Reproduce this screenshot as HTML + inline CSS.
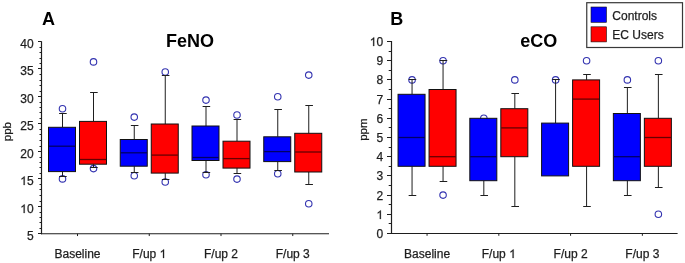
<!DOCTYPE html>
<html><head><meta charset="utf-8"><style>
html,body{margin:0;padding:0;background:#fff;overflow:hidden;}
svg{display:block;will-change:transform;}
.t{font-family:"Liberation Sans",sans-serif;font-size:12px;fill:#1e1e1e;stroke:#1e1e1e;stroke-width:0.25px;}
.h{fill-opacity:0;stroke-opacity:0;}
.o1{fill:#1e1e1e;stroke:#1e1e1e;stroke-width:42;}
.pl{font-family:"Liberation Sans",sans-serif;font-size:18px;font-weight:bold;fill:#000;}
</style></head><body>
<svg width="685" height="263" viewBox="0 0 685 263">
<rect width="685" height="263" fill="#fff"/>
<line x1="41.5" y1="41.3" x2="41.5" y2="234.25" stroke="#1e1e1e" stroke-width="1.2"/>
<line x1="41" y1="233.75" x2="329" y2="233.75" stroke="#1e1e1e" stroke-width="1.2"/>
<line x1="38" y1="233.5" x2="41.5" y2="233.5" stroke="#1e1e1e" stroke-width="1"/>
<line x1="38" y1="206.5" x2="41.5" y2="206.5" stroke="#1e1e1e" stroke-width="1"/>
<line x1="38" y1="178.5" x2="41.5" y2="178.5" stroke="#1e1e1e" stroke-width="1"/>
<line x1="38" y1="151.5" x2="41.5" y2="151.5" stroke="#1e1e1e" stroke-width="1"/>
<line x1="38" y1="123.5" x2="41.5" y2="123.5" stroke="#1e1e1e" stroke-width="1"/>
<line x1="38" y1="96.5" x2="41.5" y2="96.5" stroke="#1e1e1e" stroke-width="1"/>
<line x1="38" y1="68.5" x2="41.5" y2="68.5" stroke="#1e1e1e" stroke-width="1"/>
<line x1="38" y1="41.5" x2="41.5" y2="41.5" stroke="#1e1e1e" stroke-width="1"/>
<line x1="39.5" y1="228.5" x2="41.5" y2="228.5" stroke="#1e1e1e" stroke-width="1"/>
<line x1="39.5" y1="222.5" x2="41.5" y2="222.5" stroke="#1e1e1e" stroke-width="1"/>
<line x1="39.5" y1="217.5" x2="41.5" y2="217.5" stroke="#1e1e1e" stroke-width="1"/>
<line x1="39.5" y1="212.5" x2="41.5" y2="212.5" stroke="#1e1e1e" stroke-width="1"/>
<line x1="39.5" y1="201.5" x2="41.5" y2="201.5" stroke="#1e1e1e" stroke-width="1"/>
<line x1="39.5" y1="195.5" x2="41.5" y2="195.5" stroke="#1e1e1e" stroke-width="1"/>
<line x1="39.5" y1="189.5" x2="41.5" y2="189.5" stroke="#1e1e1e" stroke-width="1"/>
<line x1="39.5" y1="184.5" x2="41.5" y2="184.5" stroke="#1e1e1e" stroke-width="1"/>
<line x1="39.5" y1="173.5" x2="41.5" y2="173.5" stroke="#1e1e1e" stroke-width="1"/>
<line x1="39.5" y1="167.5" x2="41.5" y2="167.5" stroke="#1e1e1e" stroke-width="1"/>
<line x1="39.5" y1="162.5" x2="41.5" y2="162.5" stroke="#1e1e1e" stroke-width="1"/>
<line x1="39.5" y1="157.5" x2="41.5" y2="157.5" stroke="#1e1e1e" stroke-width="1"/>
<line x1="39.5" y1="146.5" x2="41.5" y2="146.5" stroke="#1e1e1e" stroke-width="1"/>
<line x1="39.5" y1="140.5" x2="41.5" y2="140.5" stroke="#1e1e1e" stroke-width="1"/>
<line x1="39.5" y1="134.5" x2="41.5" y2="134.5" stroke="#1e1e1e" stroke-width="1"/>
<line x1="39.5" y1="129.5" x2="41.5" y2="129.5" stroke="#1e1e1e" stroke-width="1"/>
<line x1="39.5" y1="118.5" x2="41.5" y2="118.5" stroke="#1e1e1e" stroke-width="1"/>
<line x1="39.5" y1="112.5" x2="41.5" y2="112.5" stroke="#1e1e1e" stroke-width="1"/>
<line x1="39.5" y1="107.5" x2="41.5" y2="107.5" stroke="#1e1e1e" stroke-width="1"/>
<line x1="39.5" y1="102.5" x2="41.5" y2="102.5" stroke="#1e1e1e" stroke-width="1"/>
<line x1="39.5" y1="91.5" x2="41.5" y2="91.5" stroke="#1e1e1e" stroke-width="1"/>
<line x1="39.5" y1="85.5" x2="41.5" y2="85.5" stroke="#1e1e1e" stroke-width="1"/>
<line x1="39.5" y1="80.5" x2="41.5" y2="80.5" stroke="#1e1e1e" stroke-width="1"/>
<line x1="39.5" y1="74.5" x2="41.5" y2="74.5" stroke="#1e1e1e" stroke-width="1"/>
<line x1="39.5" y1="63.5" x2="41.5" y2="63.5" stroke="#1e1e1e" stroke-width="1"/>
<line x1="39.5" y1="58.5" x2="41.5" y2="58.5" stroke="#1e1e1e" stroke-width="1"/>
<line x1="39.5" y1="52.5" x2="41.5" y2="52.5" stroke="#1e1e1e" stroke-width="1"/>
<line x1="39.5" y1="47.5" x2="41.5" y2="47.5" stroke="#1e1e1e" stroke-width="1"/>
<text x="33.6" y="239.9" text-anchor="end" class="t">5</text>
<text x="33.6" y="212.9" text-anchor="end" class="t"><tspan class="h">1</tspan>0</text>
<text x="33.6" y="185.1" text-anchor="end" class="t"><tspan class="h">1</tspan>5</text>
<text x="33.6" y="158.05" text-anchor="end" class="t">20</text>
<text x="33.6" y="130" text-anchor="end" class="t">25</text>
<text x="33.6" y="103.2" text-anchor="end" class="t">30</text>
<text x="33.6" y="75.2" text-anchor="end" class="t">35</text>
<text x="33.6" y="48.1" text-anchor="end" class="t">40</text>
<line x1="77.5" y1="233.75" x2="77.5" y2="236.05" stroke="#1e1e1e" stroke-width="1"/>
<text x="77.5" y="258" text-anchor="middle" class="t">Baseline</text>
<line x1="149.25" y1="233.75" x2="149.25" y2="236.05" stroke="#1e1e1e" stroke-width="1"/>
<text x="149.25" y="258" text-anchor="middle" class="t">F/up <tspan class="h">1</tspan></text>
<line x1="221" y1="233.75" x2="221" y2="236.05" stroke="#1e1e1e" stroke-width="1"/>
<text x="221" y="258" text-anchor="middle" class="t">F/up 2</text>
<line x1="292.75" y1="233.75" x2="292.75" y2="236.05" stroke="#1e1e1e" stroke-width="1"/>
<text x="292.75" y="258" text-anchor="middle" class="t">F/up 3</text>
<line x1="391.5" y1="41" x2="391.5" y2="234" stroke="#1e1e1e" stroke-width="1.2"/>
<line x1="391" y1="233.5" x2="677.6" y2="233.5" stroke="#1e1e1e" stroke-width="1.2"/>
<line x1="387" y1="233.5" x2="391.5" y2="233.5" stroke="#1e1e1e" stroke-width="1"/>
<line x1="387" y1="214.5" x2="391.5" y2="214.5" stroke="#1e1e1e" stroke-width="1"/>
<line x1="387" y1="195.5" x2="391.5" y2="195.5" stroke="#1e1e1e" stroke-width="1"/>
<line x1="387" y1="175.5" x2="391.5" y2="175.5" stroke="#1e1e1e" stroke-width="1"/>
<line x1="387" y1="156.5" x2="391.5" y2="156.5" stroke="#1e1e1e" stroke-width="1"/>
<line x1="387" y1="137.5" x2="391.5" y2="137.5" stroke="#1e1e1e" stroke-width="1"/>
<line x1="387" y1="118.5" x2="391.5" y2="118.5" stroke="#1e1e1e" stroke-width="1"/>
<line x1="387" y1="99.5" x2="391.5" y2="99.5" stroke="#1e1e1e" stroke-width="1"/>
<line x1="387" y1="79.5" x2="391.5" y2="79.5" stroke="#1e1e1e" stroke-width="1"/>
<line x1="387" y1="60.5" x2="391.5" y2="60.5" stroke="#1e1e1e" stroke-width="1"/>
<line x1="387" y1="41.5" x2="391.5" y2="41.5" stroke="#1e1e1e" stroke-width="1"/>
<line x1="388.7" y1="223.5" x2="391.5" y2="223.5" stroke="#1e1e1e" stroke-width="1"/>
<line x1="388.7" y1="204.5" x2="391.5" y2="204.5" stroke="#1e1e1e" stroke-width="1"/>
<line x1="388.7" y1="185.5" x2="391.5" y2="185.5" stroke="#1e1e1e" stroke-width="1"/>
<line x1="388.7" y1="166.5" x2="391.5" y2="166.5" stroke="#1e1e1e" stroke-width="1"/>
<line x1="388.7" y1="147.5" x2="391.5" y2="147.5" stroke="#1e1e1e" stroke-width="1"/>
<line x1="388.7" y1="127.5" x2="391.5" y2="127.5" stroke="#1e1e1e" stroke-width="1"/>
<line x1="388.7" y1="108.5" x2="391.5" y2="108.5" stroke="#1e1e1e" stroke-width="1"/>
<line x1="388.7" y1="89.5" x2="391.5" y2="89.5" stroke="#1e1e1e" stroke-width="1"/>
<line x1="388.7" y1="70.5" x2="391.5" y2="70.5" stroke="#1e1e1e" stroke-width="1"/>
<line x1="388.7" y1="51.5" x2="391.5" y2="51.5" stroke="#1e1e1e" stroke-width="1"/>
<text x="383.1" y="238" text-anchor="end" class="t">0</text>
<text x="383.1" y="218.8" text-anchor="end" class="t"><tspan class="h">1</tspan></text>
<text x="383.1" y="199.6" text-anchor="end" class="t">2</text>
<text x="383.1" y="180.4" text-anchor="end" class="t">3</text>
<text x="383.1" y="161.2" text-anchor="end" class="t">4</text>
<text x="383.1" y="142" text-anchor="end" class="t">5</text>
<text x="383.1" y="122.8" text-anchor="end" class="t">6</text>
<text x="383.1" y="103.6" text-anchor="end" class="t">7</text>
<text x="383.1" y="84.4" text-anchor="end" class="t">8</text>
<text x="383.1" y="65.2" text-anchor="end" class="t">9</text>
<text x="383.1" y="46" text-anchor="end" class="t"><tspan class="h">1</tspan>0</text>
<line x1="427.05" y1="233.5" x2="427.05" y2="235.8" stroke="#1e1e1e" stroke-width="1"/>
<text x="427.05" y="258" text-anchor="middle" class="t">Baseline</text>
<line x1="498.82" y1="233.5" x2="498.82" y2="235.8" stroke="#1e1e1e" stroke-width="1"/>
<text x="498.82" y="258" text-anchor="middle" class="t">F/up <tspan class="h">1</tspan></text>
<line x1="570.59" y1="233.5" x2="570.59" y2="235.8" stroke="#1e1e1e" stroke-width="1"/>
<text x="570.59" y="258" text-anchor="middle" class="t">F/up 2</text>
<line x1="642.36" y1="233.5" x2="642.36" y2="235.8" stroke="#1e1e1e" stroke-width="1"/>
<text x="642.36" y="258" text-anchor="middle" class="t">F/up 3</text>
<circle cx="62.5" cy="108.8" r="3.25" fill="none" stroke="#3333b0" stroke-width="1.1"/>
<circle cx="62.5" cy="178.9" r="3.25" fill="none" stroke="#3333b0" stroke-width="1.1"/>
<circle cx="93.5" cy="61.9" r="3.25" fill="none" stroke="#3333b0" stroke-width="1.1"/>
<circle cx="93.5" cy="168.6" r="3.25" fill="none" stroke="#3333b0" stroke-width="1.1"/>
<circle cx="134.25" cy="117.1" r="3.25" fill="none" stroke="#3333b0" stroke-width="1.1"/>
<circle cx="134.25" cy="175.7" r="3.25" fill="none" stroke="#3333b0" stroke-width="1.1"/>
<circle cx="165.25" cy="72" r="3.25" fill="none" stroke="#3333b0" stroke-width="1.1"/>
<circle cx="165.25" cy="182" r="3.25" fill="none" stroke="#3333b0" stroke-width="1.1"/>
<circle cx="206" cy="100.1" r="3.25" fill="none" stroke="#3333b0" stroke-width="1.1"/>
<circle cx="206" cy="174.8" r="3.25" fill="none" stroke="#3333b0" stroke-width="1.1"/>
<circle cx="237" cy="115" r="3.25" fill="none" stroke="#3333b0" stroke-width="1.1"/>
<circle cx="237" cy="179.1" r="3.25" fill="none" stroke="#3333b0" stroke-width="1.1"/>
<circle cx="277.75" cy="96.8" r="3.25" fill="none" stroke="#3333b0" stroke-width="1.1"/>
<circle cx="277.75" cy="173.7" r="3.25" fill="none" stroke="#3333b0" stroke-width="1.1"/>
<circle cx="308.75" cy="75.1" r="3.25" fill="none" stroke="#3333b0" stroke-width="1.1"/>
<circle cx="308.75" cy="203.8" r="3.25" fill="none" stroke="#3333b0" stroke-width="1.1"/>
<line x1="62.5" y1="113.5" x2="62.5" y2="127.3" stroke="#1e1e1e" stroke-width="1"/>
<line x1="59.1" y1="113.5" x2="66.7" y2="113.5" stroke="#1e1e1e" stroke-width="1"/>
<line x1="62.5" y1="171.6" x2="62.5" y2="176.6" stroke="#1e1e1e" stroke-width="1"/>
<line x1="59.1" y1="176.5" x2="66.7" y2="176.5" stroke="#1e1e1e" stroke-width="1"/>
<rect x="48.5" y="127.3" width="27" height="44.3" fill="#0000ff" stroke="#111" stroke-width="1"/>
<line x1="49" y1="146.2" x2="75" y2="146.2" stroke="#000" stroke-opacity="0.6" stroke-width="1.3"/>
<line x1="93.5" y1="92.8" x2="93.5" y2="121.4" stroke="#1e1e1e" stroke-width="1"/>
<line x1="90.1" y1="92.5" x2="97.7" y2="92.5" stroke="#1e1e1e" stroke-width="1"/>
<line x1="93.5" y1="164.2" x2="93.5" y2="167.2" stroke="#1e1e1e" stroke-width="1"/>
<line x1="90.1" y1="167.5" x2="97.7" y2="167.5" stroke="#1e1e1e" stroke-width="1"/>
<rect x="79.5" y="121.4" width="27" height="42.8" fill="#ff0000" stroke="#111" stroke-width="1"/>
<line x1="80" y1="159.5" x2="106" y2="159.5" stroke="#000" stroke-opacity="0.6" stroke-width="1.3"/>
<line x1="134.25" y1="125" x2="134.25" y2="139.5" stroke="#1e1e1e" stroke-width="1"/>
<line x1="130.85" y1="125.5" x2="138.45" y2="125.5" stroke="#1e1e1e" stroke-width="1"/>
<line x1="134.25" y1="166.2" x2="134.25" y2="172.6" stroke="#1e1e1e" stroke-width="1"/>
<line x1="130.85" y1="172.5" x2="138.45" y2="172.5" stroke="#1e1e1e" stroke-width="1"/>
<rect x="120.25" y="139.5" width="27" height="26.7" fill="#0000ff" stroke="#111" stroke-width="1"/>
<line x1="120.75" y1="152.8" x2="146.75" y2="152.8" stroke="#000" stroke-opacity="0.6" stroke-width="1.3"/>
<line x1="165.25" y1="75.6" x2="165.25" y2="124" stroke="#1e1e1e" stroke-width="1"/>
<line x1="161.85" y1="75.5" x2="169.45" y2="75.5" stroke="#1e1e1e" stroke-width="1"/>
<line x1="165.25" y1="173.1" x2="165.25" y2="179" stroke="#1e1e1e" stroke-width="1"/>
<line x1="161.85" y1="179.5" x2="169.45" y2="179.5" stroke="#1e1e1e" stroke-width="1"/>
<rect x="151.25" y="124" width="27" height="49.1" fill="#ff0000" stroke="#111" stroke-width="1"/>
<line x1="151.75" y1="155.1" x2="177.75" y2="155.1" stroke="#000" stroke-opacity="0.6" stroke-width="1.3"/>
<line x1="206" y1="106.9" x2="206" y2="126" stroke="#1e1e1e" stroke-width="1"/>
<line x1="202.6" y1="106.5" x2="210.2" y2="106.5" stroke="#1e1e1e" stroke-width="1"/>
<line x1="206" y1="160.5" x2="206" y2="172.3" stroke="#1e1e1e" stroke-width="1"/>
<line x1="202.6" y1="172.5" x2="210.2" y2="172.5" stroke="#1e1e1e" stroke-width="1"/>
<rect x="192" y="126" width="27" height="34.5" fill="#0000ff" stroke="#111" stroke-width="1"/>
<line x1="192.5" y1="157.5" x2="218.5" y2="157.5" stroke="#000" stroke-opacity="0.6" stroke-width="1.3"/>
<line x1="237" y1="119.8" x2="237" y2="141.2" stroke="#1e1e1e" stroke-width="1"/>
<line x1="233.6" y1="119.5" x2="241.2" y2="119.5" stroke="#1e1e1e" stroke-width="1"/>
<line x1="237" y1="168.1" x2="237" y2="173.1" stroke="#1e1e1e" stroke-width="1"/>
<line x1="233.6" y1="173.5" x2="241.2" y2="173.5" stroke="#1e1e1e" stroke-width="1"/>
<rect x="223" y="141.2" width="27" height="26.9" fill="#ff0000" stroke="#111" stroke-width="1"/>
<line x1="223.5" y1="158.6" x2="249.5" y2="158.6" stroke="#000" stroke-opacity="0.6" stroke-width="1.3"/>
<line x1="277.75" y1="109.9" x2="277.75" y2="136.8" stroke="#1e1e1e" stroke-width="1"/>
<line x1="274.35" y1="109.5" x2="281.95" y2="109.5" stroke="#1e1e1e" stroke-width="1"/>
<line x1="277.75" y1="161.6" x2="277.75" y2="170.5" stroke="#1e1e1e" stroke-width="1"/>
<line x1="274.35" y1="170.5" x2="281.95" y2="170.5" stroke="#1e1e1e" stroke-width="1"/>
<rect x="263.75" y="136.8" width="27" height="24.8" fill="#0000ff" stroke="#111" stroke-width="1"/>
<line x1="264.25" y1="151.6" x2="290.25" y2="151.6" stroke="#000" stroke-opacity="0.6" stroke-width="1.3"/>
<line x1="308.75" y1="105.7" x2="308.75" y2="133.3" stroke="#1e1e1e" stroke-width="1"/>
<line x1="305.35" y1="105.5" x2="312.95" y2="105.5" stroke="#1e1e1e" stroke-width="1"/>
<line x1="308.75" y1="172" x2="308.75" y2="184.8" stroke="#1e1e1e" stroke-width="1"/>
<line x1="305.35" y1="184.5" x2="312.95" y2="184.5" stroke="#1e1e1e" stroke-width="1"/>
<rect x="294.75" y="133.3" width="27" height="38.7" fill="#ff0000" stroke="#111" stroke-width="1"/>
<line x1="295.25" y1="152" x2="321.25" y2="152" stroke="#000" stroke-opacity="0.6" stroke-width="1.3"/>
<circle cx="412.05" cy="79.9" r="3.25" fill="none" stroke="#3333b0" stroke-width="1.1"/>
<circle cx="443.05" cy="60.7" r="3.25" fill="none" stroke="#3333b0" stroke-width="1.1"/>
<circle cx="443.05" cy="195.1" r="3.25" fill="none" stroke="#3333b0" stroke-width="1.1"/>
<circle cx="483.82" cy="118.3" r="3.25" fill="none" stroke="#3333b0" stroke-width="1.1"/>
<circle cx="514.82" cy="79.9" r="3.25" fill="none" stroke="#3333b0" stroke-width="1.1"/>
<circle cx="555.59" cy="79.9" r="3.25" fill="none" stroke="#3333b0" stroke-width="1.1"/>
<circle cx="586.59" cy="60.7" r="3.25" fill="none" stroke="#3333b0" stroke-width="1.1"/>
<circle cx="627.36" cy="79.9" r="3.25" fill="none" stroke="#3333b0" stroke-width="1.1"/>
<circle cx="658.36" cy="60.7" r="3.25" fill="none" stroke="#3333b0" stroke-width="1.1"/>
<circle cx="658.36" cy="214.3" r="3.25" fill="none" stroke="#3333b0" stroke-width="1.1"/>
<line x1="412.05" y1="79.9" x2="412.05" y2="94.3" stroke="#1e1e1e" stroke-width="1"/>
<line x1="408.65" y1="79.5" x2="416.25" y2="79.5" stroke="#1e1e1e" stroke-width="1"/>
<line x1="412.05" y1="166.3" x2="412.05" y2="195.1" stroke="#1e1e1e" stroke-width="1"/>
<line x1="408.65" y1="195.5" x2="416.25" y2="195.5" stroke="#1e1e1e" stroke-width="1"/>
<rect x="398.05" y="94.3" width="27" height="72" fill="#0000ff" stroke="#111" stroke-width="1"/>
<line x1="398.55" y1="137.5" x2="424.55" y2="137.5" stroke="#000" stroke-opacity="0.6" stroke-width="1.3"/>
<line x1="443.05" y1="60.7" x2="443.05" y2="89.5" stroke="#1e1e1e" stroke-width="1"/>
<line x1="439.65" y1="60.5" x2="447.25" y2="60.5" stroke="#1e1e1e" stroke-width="1"/>
<line x1="443.05" y1="166.3" x2="443.05" y2="181.66" stroke="#1e1e1e" stroke-width="1"/>
<line x1="439.65" y1="181.5" x2="447.25" y2="181.5" stroke="#1e1e1e" stroke-width="1"/>
<rect x="429.05" y="89.5" width="27" height="76.8" fill="#ff0000" stroke="#111" stroke-width="1"/>
<line x1="429.55" y1="156.7" x2="455.55" y2="156.7" stroke="#000" stroke-opacity="0.6" stroke-width="1.3"/>
<line x1="483.82" y1="180.7" x2="483.82" y2="195.1" stroke="#1e1e1e" stroke-width="1"/>
<line x1="480.42" y1="195.5" x2="488.02" y2="195.5" stroke="#1e1e1e" stroke-width="1"/>
<rect x="469.82" y="118.3" width="27" height="62.4" fill="#0000ff" stroke="#111" stroke-width="1"/>
<line x1="470.32" y1="156.7" x2="496.32" y2="156.7" stroke="#000" stroke-opacity="0.6" stroke-width="1.3"/>
<line x1="514.82" y1="93.34" x2="514.82" y2="108.7" stroke="#1e1e1e" stroke-width="1"/>
<line x1="511.42" y1="93.5" x2="519.02" y2="93.5" stroke="#1e1e1e" stroke-width="1"/>
<line x1="514.82" y1="156.7" x2="514.82" y2="206.62" stroke="#1e1e1e" stroke-width="1"/>
<line x1="511.42" y1="206.5" x2="519.02" y2="206.5" stroke="#1e1e1e" stroke-width="1"/>
<rect x="500.82" y="108.7" width="27" height="48" fill="#ff0000" stroke="#111" stroke-width="1"/>
<line x1="501.32" y1="127.9" x2="527.32" y2="127.9" stroke="#000" stroke-opacity="0.6" stroke-width="1.3"/>
<line x1="555.59" y1="79.9" x2="555.59" y2="123.1" stroke="#1e1e1e" stroke-width="1"/>
<line x1="552.19" y1="79.5" x2="559.79" y2="79.5" stroke="#1e1e1e" stroke-width="1"/>
<rect x="541.59" y="123.1" width="27" height="52.8" fill="#0000ff" stroke="#111" stroke-width="1"/>
<line x1="586.59" y1="74.14" x2="586.59" y2="79.9" stroke="#1e1e1e" stroke-width="1"/>
<line x1="583.19" y1="74.5" x2="590.79" y2="74.5" stroke="#1e1e1e" stroke-width="1"/>
<line x1="586.59" y1="166.3" x2="586.59" y2="206.62" stroke="#1e1e1e" stroke-width="1"/>
<line x1="583.19" y1="206.5" x2="590.79" y2="206.5" stroke="#1e1e1e" stroke-width="1"/>
<rect x="572.59" y="79.9" width="27" height="86.4" fill="#ff0000" stroke="#111" stroke-width="1"/>
<line x1="573.09" y1="99.1" x2="599.09" y2="99.1" stroke="#000" stroke-opacity="0.6" stroke-width="1.3"/>
<line x1="627.36" y1="87.58" x2="627.36" y2="113.5" stroke="#1e1e1e" stroke-width="1"/>
<line x1="623.96" y1="87.5" x2="631.56" y2="87.5" stroke="#1e1e1e" stroke-width="1"/>
<line x1="627.36" y1="180.7" x2="627.36" y2="195.1" stroke="#1e1e1e" stroke-width="1"/>
<line x1="623.96" y1="195.5" x2="631.56" y2="195.5" stroke="#1e1e1e" stroke-width="1"/>
<rect x="613.36" y="113.5" width="27" height="67.2" fill="#0000ff" stroke="#111" stroke-width="1"/>
<line x1="613.86" y1="156.7" x2="639.86" y2="156.7" stroke="#000" stroke-opacity="0.6" stroke-width="1.3"/>
<line x1="658.36" y1="74.14" x2="658.36" y2="118.3" stroke="#1e1e1e" stroke-width="1"/>
<line x1="654.96" y1="74.5" x2="662.56" y2="74.5" stroke="#1e1e1e" stroke-width="1"/>
<line x1="658.36" y1="166.3" x2="658.36" y2="187.42" stroke="#1e1e1e" stroke-width="1"/>
<line x1="654.96" y1="187.5" x2="662.56" y2="187.5" stroke="#1e1e1e" stroke-width="1"/>
<rect x="644.36" y="118.3" width="27" height="48" fill="#ff0000" stroke="#111" stroke-width="1"/>
<line x1="644.86" y1="137.5" x2="670.86" y2="137.5" stroke="#000" stroke-opacity="0.6" stroke-width="1.3"/>
<text x="42.1" y="24.7" class="pl">A</text>
<text x="390.3" y="24.7" class="pl">B</text>
<text x="166" y="46.7" class="pl">FeNO</text>
<text x="520.3" y="46.7" class="pl">eCO</text>
<text transform="translate(10.9,131.6) rotate(-90)" text-anchor="middle" class="t" style="font-size:11.5px">ppb</text>
<text transform="translate(366.8,129.6) rotate(-90)" text-anchor="middle" class="t" style="font-size:11.5px">ppm</text>
<rect x="586.75" y="2.7" width="95.75" height="44.8" fill="#fff" stroke="#383838" stroke-width="1.2"/>
<rect x="591" y="7" width="15.5" height="15.3" fill="#0000ff" stroke="#111" stroke-width="0.6"/>
<rect x="591" y="26.8" width="15.5" height="15.1" fill="#ff0000" stroke="#111" stroke-width="0.6"/>
<text x="612.3" y="19.6" class="t">Controls</text>
<text x="612.3" y="39.1" class="t">EC Users</text>
<path class="o1" transform="translate(20.22,213) scale(0.005859,-0.005859)" d="M763,0L583,0L583,1147C540,1106 483,1065 413,1024C343,983 280,952 223,932L223,1106C321,1152 407,1208 481,1273C555,1338 607,1402 637,1466L763,1466Z"/>
<path class="o1" transform="translate(20.22,185) scale(0.005859,-0.005859)" d="M763,0L583,0L583,1147C540,1106 483,1065 413,1024C343,983 280,952 223,932L223,1106C321,1152 407,1208 481,1273C555,1338 607,1402 637,1466L763,1466Z"/>
<path class="o1" transform="translate(159.59,258) scale(0.005859,-0.005859)" d="M763,0L583,0L583,1147C540,1106 483,1065 413,1024C343,983 280,952 223,932L223,1106C321,1152 407,1208 481,1273C555,1338 607,1402 637,1466L763,1466Z"/>
<path class="o1" transform="translate(376.41,219) scale(0.005859,-0.005859)" d="M763,0L583,0L583,1147C540,1106 483,1065 413,1024C343,983 280,952 223,932L223,1106C321,1152 407,1208 481,1273C555,1338 607,1402 637,1466L763,1466Z"/>
<path class="o1" transform="translate(369.73,46) scale(0.005859,-0.005859)" d="M763,0L583,0L583,1147C540,1106 483,1065 413,1024C343,983 280,952 223,932L223,1106C321,1152 407,1208 481,1273C555,1338 607,1402 637,1466L763,1466Z"/>
<path class="o1" transform="translate(509.16,258) scale(0.005859,-0.005859)" d="M763,0L583,0L583,1147C540,1106 483,1065 413,1024C343,983 280,952 223,932L223,1106C321,1152 407,1208 481,1273C555,1338 607,1402 637,1466L763,1466Z"/>
</svg>
</body></html>
